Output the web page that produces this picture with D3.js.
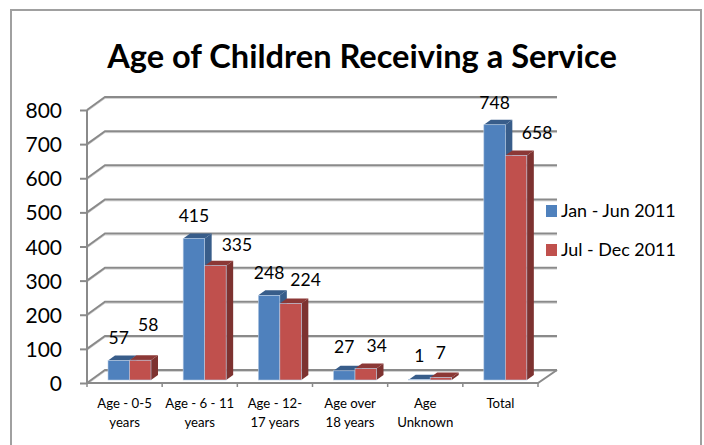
<!DOCTYPE html>
<html lang="en">
<head>
<meta charset="utf-8">
<title>Age of Children Receiving a Service</title>
<style>
html, body { margin: 0; padding: 0; background: #fff; }
svg { display: block; }
text { font-family: Lato, "Open Sans", sans-serif; fill: #000; }
</style>
<script src="https://cdn.jsdelivr.net/npm/d3@7"></script>
</head>
<body>
<script>
// Values
var categories = ["Age - 0-5 years", "Age - 6 - 11 years", "Age - 12-17 years", "Age over 18 years", "Age Unknown", "Total"];
var categoryLines = [["Age - 0-5", "years"], ["Age - 6 - 11", "years"], ["Age - 12-", "17 years"], ["Age over", "18 years"], ["Age", "Unknown"], ["Total"]];
var seriesNames = ["Jan - Jun 2011", "Jul - Dec 2011"];
var janJun = [57, 415, 248, 27, 1, 748];
var julDec = [58, 335, 224, 34, 7, 658];
var yTicks = [0, 100, 200, 300, 400, 500, 600, 700, 800];

var width = 704, height = 445;
var colors = [
    { front: "#4f81bd", top: "#385d8a", side: "#385d8a" },
    { front: "#c0504d", top: "#8c3836", side: "#7d3230" }
];
var gridColor = "#8a8a8a";

var svg = d3.select("body").append("svg")
    .attr("width", width)
    .attr("height", height);

// frame around the chart, the bottom edge is cropped off in the reference
svg.append("path")
    .attr("d", d3.line()([[11, 445], [11, 10], [701, 10], [701, 445]]))
    .attr("fill", "none")
    .attr("stroke", "#a0a0a0")
    .attr("stroke-width", 2);

svg.append("text")
    .attr("x", 362)
    .attr("y", 68)
    .attr("text-anchor", "middle")
    .style("font-size", "32.6px")
    .style("font-weight", "bold")
    .text("Age of Children Receiving a Service");

var x = d3.scaleBand().domain(categories).range([87, 538]);
var y = d3.scaleLinear().domain([0, 800]).range([383, 110]);

// the fake 3D depth of the floor and walls
var wallDx = 18, wallDy = -13;
var barDx = 7, barDy = -5;
var barW = 21.5;
var barInset = 21, barLift = 3;

function gridLine(d) {
    return d3.line()([[87, y(d)], [87 + wallDx, y(d) + wallDy], [538 + wallDx + 1, y(d) + wallDy]]);
}

var walls = svg.append("g").attr("fill", "none");

walls.selectAll("path.shadow")
    .data(yTicks)
    .enter()
    .append("path")
    .attr("class", "shadow")
    .attr("d", gridLine)
    .attr("transform", "translate(0,1.5)")
    .attr("stroke", "#d4d4d4")
    .attr("stroke-width", 1);

walls.selectAll("path.grid")
    .data(yTicks)
    .enter()
    .append("path")
    .attr("class", "grid")
    .attr("d", gridLine)
    .attr("stroke", gridColor)
    .attr("stroke-width", 2);

// front edge of the floor and its right side
walls.append("path")
    .attr("d", d3.line()([[87, y(0)], [538, y(0)], [538 + wallDx + 1, y(0) + wallDy]]))
    .attr("stroke", gridColor)
    .attr("stroke-width", 2);

// left axis with tick labels
var yAxis = d3.axisLeft(y)
    .tickValues(yTicks)
    .tickSize(7)
    .tickPadding(18);

var yAxisG = svg.append("g")
    .attr("transform", "translate(87,0)")
    .call(yAxis);
yAxisG.select(".domain")
    .attr("d", d3.line()([[0, y(800)], [0, y(0)]]))
    .attr("stroke", gridColor)
    .attr("stroke-width", 2);
yAxisG.selectAll(".tick line")
    .attr("stroke", gridColor)
    .attr("stroke-width", 2);
yAxisG.selectAll(".tick text")
    .style("font-size", "21px")
    .attr("dy", "0.36em");

// category ticks sit on the band edges
var catTicks = categories.map(function(c) { return x(c); }).concat([x.range()[1]]);
svg.selectAll("line.catTick")
    .data(catTicks)
    .enter()
    .append("line")
    .attr("class", "catTick")
    .attr("x1", function(d) { return d; })
    .attr("x2", function(d) { return d; })
    .attr("y1", y(0))
    .attr("y2", y(0) + 4)
    .attr("stroke", gridColor)
    .attr("stroke-width", 1.5);

var catLabels = svg.selectAll("text.cat")
    .data(categories)
    .enter()
    .append("text")
    .attr("class", "cat")
    .attr("text-anchor", "middle")
    .style("font-size", "13.2px");

catLabels.selectAll("tspan")
    .data(function(d, i) {
        return categoryLines[i].map(function(s) { return { s: s, c: d }; });
    })
    .enter()
    .append("tspan")
    .attr("x", function(d) { return x(d.c) + x.bandwidth() / 2; })
    .attr("y", function(d, i) { return 407.5 + i * 19; })
    .text(function(d) { return d.s; });

// one bar: side, top, then front face
function drawBar(g, cat, value, s) {
    var left = x(cat) + barInset + s * barW;
    var right = left + barW;
    var base = y(0) - barLift;
    var top = base - (y(0) - y(value));
    var c = colors[s];

    g.append("path")
        .attr("d", d3.line()([[right, top], [right + barDx, top + barDy], [right + barDx, base + barDy], [right, base]]) + "Z")
        .attr("fill", c.side);
    g.append("path")
        .attr("d", d3.line()([[left, top], [left + barDx, top + barDy], [right + barDx, top + barDy], [right, top]]) + "Z")
        .attr("fill", c.top);
    g.append("rect")
        .attr("x", left)
        .attr("y", top)
        .attr("width", barW)
        .attr("height", base - top)
        .attr("fill", c.front)
        .attr("stroke", "#b9cde5")
        .attr("stroke-width", 0.6);
}

var barsG = svg.append("g");
categories.forEach(function(c, i) {
    drawBar(barsG, c, janJun[i], 0);
    drawBar(barsG, c, julDec[i], 1);
});

// data labels, a few were dragged by hand in the original
var labelDy = -23;
var blueNudge = [[0, 0], [0, 0], [0, 0], [0, -1], [0, -1], [0, 1]];
var redNudge = [[8, -13], [21.5, 2], [15, -1], [11, 0], [0, -2], [21, 0]];

function addLabels(values, s, nudge) {
    svg.selectAll("text.val" + s)
        .data(values)
        .enter()
        .append("text")
        .attr("class", "val" + s)
        .attr("text-anchor", "middle")
        .attr("dy", "0.36em")
        .attr("x", function(d, i) {
            return x(categories[i]) + barInset + (s + 0.5) * barW + nudge[i][0];
        })
        .attr("y", function(d, i) {
            return y(d) - barLift + labelDy + nudge[i][1];
        })
        .style("font-size", "17.5px")
        .text(function(d) { return d; });
}
addLabels(janJun, 0, blueNudge);
addLabels(julDec, 1, redNudge);

// legend
var legendY = d3.scalePoint().domain(seriesNames).range([211, 250]);
var legend = svg.selectAll("g.legend")
    .data(seriesNames)
    .enter()
    .append("g")
    .attr("class", "legend")
    .attr("transform", function(d) { return "translate(546," + legendY(d) + ")"; });
legend.append("rect")
    .attr("x", 0)
    .attr("y", -6)
    .attr("width", 11)
    .attr("height", 12)
    .attr("fill", function(d, i) { return colors[i].front; });
legend.append("text")
    .attr("x", 15)
    .attr("dy", "0.36em")
    .style("font-size", "17.9px")
    .text(function(d) { return d; });
</script>
</body>
</html>
